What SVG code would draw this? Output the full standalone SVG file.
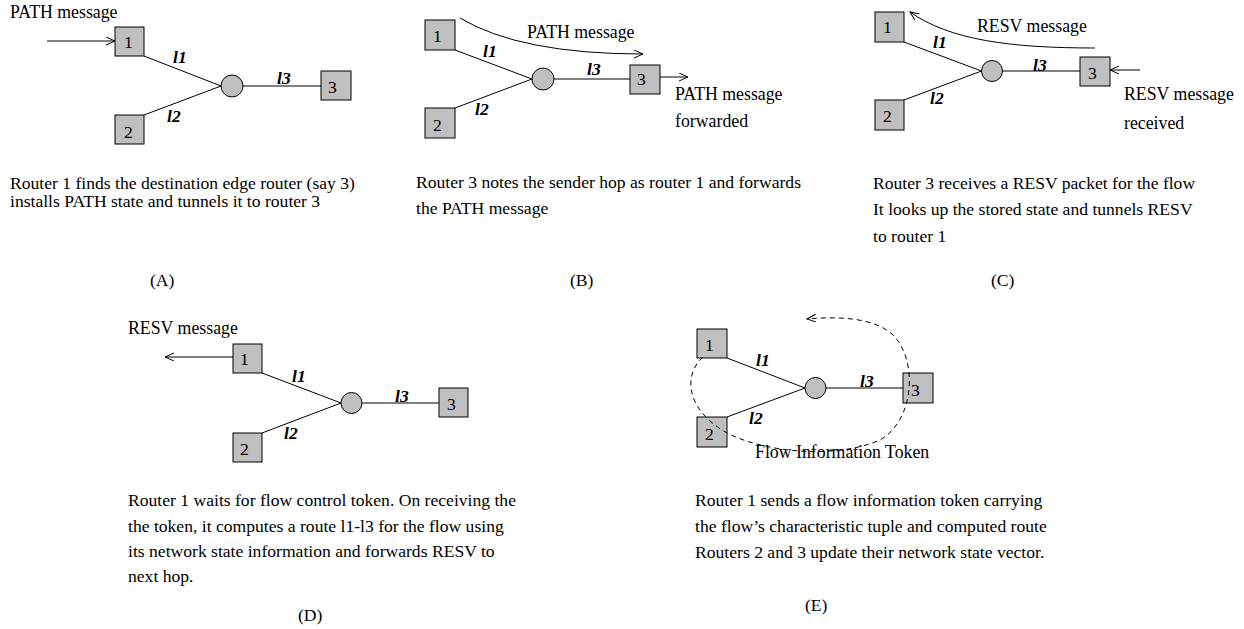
<svg xmlns="http://www.w3.org/2000/svg" width="1244" height="629" viewBox="0 0 1244 629">
<style>
text{font-family:"Liberation Serif","Times New Roman",serif;font-size:17.6px;fill:#000}
.dl{font-size:17.8px}
.box{fill:#bfbfbf;stroke:#000;stroke-width:1}
.hub{fill:#bfbfbf;stroke:#000;stroke-width:1}
.ln{fill:none;stroke:#000;stroke-width:1}
.lbl{font-weight:bold;font-style:italic;font-size:17.6px}
.dash{fill:none;stroke:#000;stroke-width:1;stroke-dasharray:5 4}
</style>
<defs>
<marker id="ah" markerUnits="userSpaceOnUse" markerWidth="12" markerHeight="10" refX="9" refY="4" orient="auto">
<path d="M0,0 L9,4 L0,8" fill="none" stroke="#000" stroke-width="1"/>
</marker>
</defs>
<rect width="1244" height="629" fill="#fff"/>

<!-- Panel A -->
<g id="a-r1"><rect class="box" x="115" y="27" width="29" height="29"/><text x="124" y="48">1</text></g>
<g id="a-r2"><rect class="box" x="115" y="115" width="29" height="29"/><text x="124" y="138">2</text></g>
<g id="a-hub"><circle class="hub" cx="232" cy="86" r="11"/></g>
<g id="a-r3"><rect class="box" x="321" y="71" width="30" height="29"/><text x="328" y="93">3</text></g>
<g id="a-text">
<text class="dl" x="10" y="18">PATH message</text>
<text class="lbl" x="173" y="63">l1</text>
<text class="lbl" x="167" y="122">l2</text>
<text class="lbl" x="277" y="84">l3</text>
<text x="10" y="189">Router 1 finds the destination edge router (say 3)</text>
<text x="10" y="207">installs PATH state and tunnels it to router 3</text>
<text x="150" y="286">(A)</text>
</g>

<!-- Panel B -->
<g id="b-r1"><rect class="box" x="425" y="20" width="30" height="30"/><text x="433" y="42">1</text></g>
<g id="b-r2"><rect class="box" x="425" y="108" width="30" height="30"/><text x="433" y="131">2</text></g>
<g id="b-hub"><circle class="hub" cx="543" cy="79" r="11"/></g>
<g id="b-r3"><rect class="box" x="630" y="65" width="30" height="29"/><text x="637" y="85">3</text></g>
<g id="b-text">
<text class="dl" x="527" y="38">PATH message</text>
<text class="dl" x="675" y="100">PATH message</text>
<text class="dl" x="675" y="127">forwarded</text>
<text class="lbl" x="483" y="57">l1</text>
<text class="lbl" x="475" y="115">l2</text>
<text class="lbl" x="587" y="75">l3</text>
<text x="416" y="188">Router 3 notes the sender hop as router 1 and forwards</text>
<text x="416" y="214">the PATH message</text>
<text x="570" y="286">(B)</text>
</g>

<!-- Panel C -->
<g id="c-r1"><rect class="box" x="875" y="12" width="29" height="30"/><text x="883" y="33">1</text></g>
<g id="c-r2"><rect class="box" x="875" y="100" width="29" height="30"/><text x="883" y="122">2</text></g>
<g id="c-hub"><circle class="hub" cx="992" cy="71" r="10.5"/></g>
<g id="c-r3"><rect class="box" x="1080" y="57" width="30" height="29"/><text x="1088" y="79">3</text></g>
<g id="c-text">
<text class="dl" x="977" y="32">RESV message</text>
<text class="dl" x="1124" y="100">RESV message</text>
<text class="dl" x="1124" y="129">received</text>
<text class="lbl" x="933" y="48">l1</text>
<text class="lbl" x="930" y="104">l2</text>
<text class="lbl" x="1033" y="71">l3</text>
<text x="873" y="189">Router 3 receives a RESV packet for the flow</text>
<text x="873" y="215">It looks up the stored state and tunnels RESV</text>
<text x="873" y="242">to router 1</text>
<text x="991" y="286">(C)</text>
</g>

<!-- Panel D -->
<g id="d-r1"><rect class="box" x="233" y="344" width="29" height="29"/><text x="240" y="365">1</text></g>
<g id="d-r2"><rect class="box" x="233" y="433" width="29" height="29"/><text x="240" y="455">2</text></g>
<g id="d-hub"><circle class="hub" cx="351.5" cy="403" r="10.5"/></g>
<g id="d-r3"><rect class="box" x="439" y="388" width="29" height="29"/><text x="447" y="410">3</text></g>
<g id="d-text">
<text class="dl" x="128" y="334">RESV message</text>
<text class="lbl" x="292" y="382">l1</text>
<text class="lbl" x="284" y="439">l2</text>
<text class="lbl" x="395" y="402">l3</text>
<text x="128" y="506">Router 1 waits for flow control token. On receiving the</text>
<text x="128" y="532">the token, it computes a route l1-l3 for the flow using</text>
<text x="128" y="557">its network state information and forwards RESV to</text>
<text x="128" y="582">next hop.</text>
<text x="298" y="621">(D)</text>
</g>

<!-- Panel E -->
<g id="e-r1"><rect class="box" x="697" y="329" width="30" height="29"/><text x="705" y="351">1</text></g>
<g id="e-r2"><rect class="box" x="697" y="417" width="30" height="30"/><text x="705" y="440">2</text></g>
<g id="e-hub"><circle class="hub" cx="815.5" cy="388" r="10.5"/></g>
<g id="e-r3"><rect class="box" x="903" y="373" width="30" height="30"/><text x="911" y="396">3</text></g>
<g id="e-text">
<text class="dl" x="755" y="458">Flow Information Token</text>
<text class="lbl" x="756" y="366">l1</text>
<text class="lbl" x="749" y="424">l2</text>
<text class="lbl" x="860" y="387">l3</text>
<text x="695" y="506">Router 1 sends a flow information token carrying</text>
<text x="695" y="532">the flow’s characteristic tuple and computed route</text>
<text x="695" y="558">Routers 2 and 3 update their network state vector.</text>
<text x="805" y="611">(E)</text>
</g>

<g id="connectors">
<!-- A -->
<path class="ln" d="M47,41 L115,41" marker-end="url(#ah)"/>
<path class="ln" d="M144,56 L221,86"/>
<path class="ln" d="M144,115 L221,86"/>
<path class="ln" d="M243,86 L321,86"/>
<!-- B -->
<path class="ln" d="M460,18 Q520,54 643,54" marker-end="url(#ah)"/>
<path class="ln" d="M455,50 L532,79"/>
<path class="ln" d="M455,108 L532,79"/>
<path class="ln" d="M554,79 L630,79"/>
<path class="ln" d="M660,77 L688,77" marker-end="url(#ah)"/>
<!-- C -->
<path class="ln" d="M1095,48 C1010,48 950,40 910,12" marker-end="url(#ah)"/>
<path class="ln" d="M904,42 L981.5,71"/>
<path class="ln" d="M904,100 L981.5,71"/>
<path class="ln" d="M1002.5,71 L1080,71"/>
<path class="ln" d="M1140,70 L1110,70" marker-end="url(#ah)"/>
<!-- D -->
<path class="ln" d="M233,357 L165,357" marker-end="url(#ah)"/>
<path class="ln" d="M262,373 L341,403"/>
<path class="ln" d="M262,433 L341,403"/>
<path class="ln" d="M362,403 L439,403"/>
<!-- E -->
<path class="ln" d="M727,358 L805,388"/>
<path class="ln" d="M727,417 L805,388"/>
<path class="ln" d="M826,388 L903,388"/>
<path class="dash" d="M703,357 C683,375 688,405 715,425 C745,450 830,462 880,440 C915,420 918,360 893,335 C875,318 840,316 807,319" marker-end="url(#ah)"/>
</g>
</svg>
